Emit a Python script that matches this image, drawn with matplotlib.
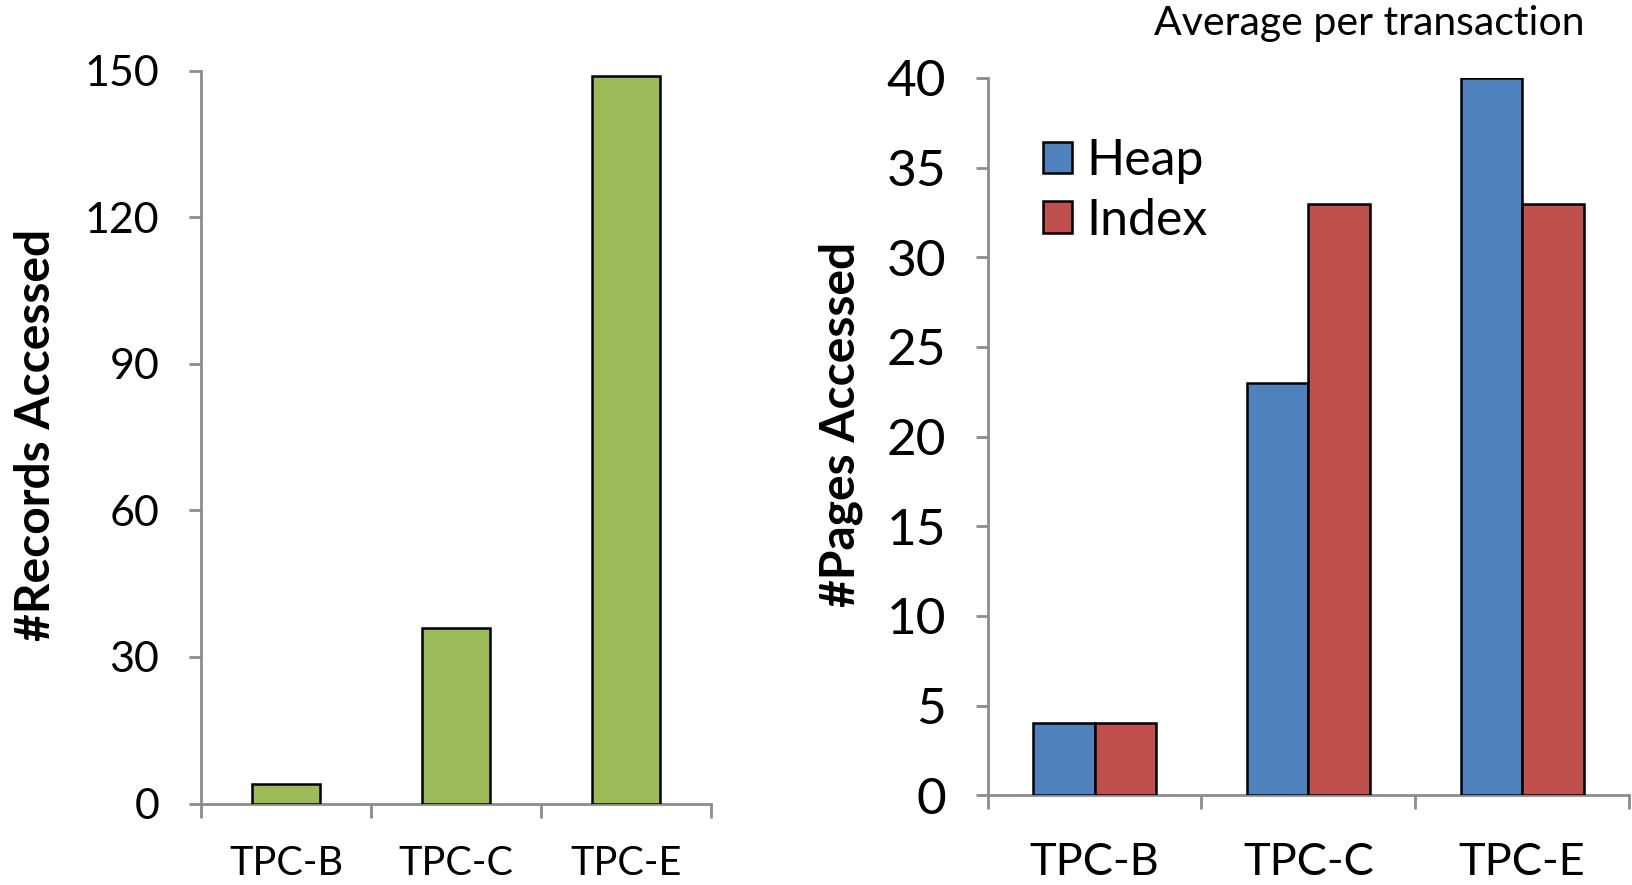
import matplotlib
matplotlib.use("Agg")
import matplotlib.pyplot as plt
import numpy as np

plt.rcParams['font.family'] = ['Lato', 'DejaVu Sans']

categories = ["TPC-B", "TPC-C", "TPC-E"]
records = [4, 36, 149]
heap_pages = [4, 23, 40]
index_pages = [4, 33, 33]

W, H = 1632, 885
DPI = 100
fig = plt.figure(figsize=(W / DPI, H / DPI), dpi=DPI)

def add_ax(l, r, t, b):
    return fig.add_axes([l / W, 1 - b / H, (r - l) / W, (b - t) / H])

GREEN = "#9BBB59"
BLUE = "#4F81BD"
RED = "#C0504D"
SPINE = "#8C8C8C"

def style(ax, ylim, yticks, tick_fs, x_fs, ytickpad, xtickpad):
    for s in ["top", "right"]:
        ax.spines[s].set_visible(False)
    for s in ["left", "bottom"]:
        ax.spines[s].set_color(SPINE)
        ax.spines[s].set_linewidth(2)
    ax.set_ylim(*ylim)
    ax.set_xlim(0, 3)
    ax.set_yticks(yticks)
    ax.tick_params(axis='y', length=9, width=2, color=SPINE, labelsize=tick_fs, pad=ytickpad)
    ax.set_xticks([0, 1, 2, 3])
    ax.set_xticklabels([])
    ax.set_xticks([0.5, 1.5, 2.5], minor=True)
    ax.set_xticklabels(categories, minor=True, fontsize=x_fs)
    ax.tick_params(axis='x', which='major', length=10, width=2, color=SPINE, direction='out')
    ax.tick_params(axis='x', which='minor', length=0, pad=xtickpad)

# Left chart
ax1 = add_ax(201, 711, 70.8, 803.5)
x = np.arange(len(categories)) + 0.5
ax1.bar(x, records, width=0.4, color=GREEN, edgecolor="black", linewidth=1.8, zorder=3)
style(ax1, (0, 150), [0, 30, 60, 90, 120, 150], 31, 28.5, 21, 30)
ax1.set_ylabel("#Records Accessed", fontsize=34.5, fontweight='bold', va='center')
ax1.yaxis.set_label_coords(-0.3227, 0.5036)

# Right chart
ax2 = add_ax(987.7, 1629, 78, 795.2)
bw = 0.288
ax2.bar(x - bw / 2, heap_pages, width=bw, color=BLUE, edgecolor="black", linewidth=1.8, zorder=3, label="Heap")
ax2.bar(x + bw / 2, index_pages, width=bw, color=RED, edgecolor="black", linewidth=1.8, zorder=3, label="Index")
style(ax2, (0, 40), [0, 5, 10, 15, 20, 25, 30, 35, 40], 37, 32.5, 21, 34)
ax2.set_ylabel("#Pages Accessed", fontsize=34.5, fontweight='bold', va='center')
ax2.yaxis.set_label_coords(-0.2288, 0.5176)
leg = ax2.legend(loc='upper left', bbox_to_anchor=(0.032, 0.965), frameon=False, fontsize=36,
                 handlelength=0.58, handleheight=0.58, handletextpad=0.28, labelspacing=0.27,
                 borderaxespad=0.3)

fig.text(1584 / W, 1 - 23 / H, "Average per transaction", ha='right', va='center', fontsize=29.5)

fig.savefig("out.png", dpi=DPI)
